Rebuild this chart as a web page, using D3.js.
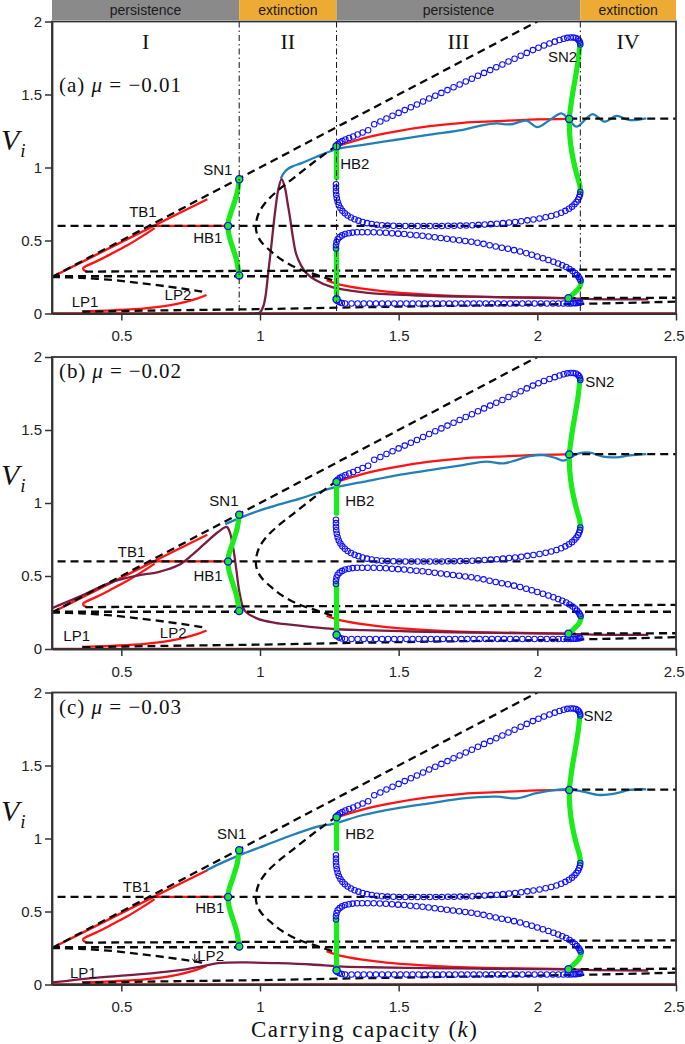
<!DOCTYPE html>
<html><head><meta charset="utf-8">
<script src="https://cdn.jsdelivr.net/npm/d3@7"></script>
<style>body{margin:0;background:#fff} svg{display:block}</style>
</head><body>
<svg id="chart" width="685" height="1044"></svg>
<script>
// ---------------- DATA ----------------
const xTicks = [0.5, 1, 1.5, 2, 2.5];
const yTicks = [0, 0.5, 1, 1.5, 2];
const panelLetters = ["(a)", "(b)", "(c)"];
const muValues = ["−0.01", "−0.02", "−0.03"];
const regimeNames = ["persistence", "extinction", "persistence", "extinction"];
const regimeBounds = [0.25, 0.925, 1.276, 2.155, 2.5];
const romanNumerals = ["I", "II", "III", "IV"];
const bifNames = ["SN1", "TB1", "HB1", "LP1", "LP2", "HB2", "SN2"];

// unstable equilibria (dashed)
const dashDiagonal = [[0.25,0.25],[2.0,2.0]];
const dashH060 = [[0.27,0.6],[2.5,0.6]];
const dashH029 = [[0.37,0.287],[1.0,0.292],[2.5,0.302]];
const dashH025 = [[0.25,0.255],[2.5,0.255]];
const dashLPUpper = [[0.25,0.25],[0.35,0.245],[0.465,0.23],[0.57,0.208],[0.67,0.184],[0.74,0.165],[0.79,0.15],[0.805,0.138]];
const dashBottom = [[0.36,0.012],[0.6,0.02],[1.0,0.03],[1.276,0.04],[1.6,0.05],[2.16,0.066],[2.5,0.081]];
const dashLowerTail = [[2.11,0.105],[2.3,0.107],[2.5,0.108]];
const dashTopTail = [[2.115,1.335],[2.5,1.335]];
const dashFold = [[1.277,1.152],[1.2,1.045],[1.12,0.926],[1.06,0.835],[1.02,0.76],[0.995,0.685],[0.985,0.6],[0.99,0.54],[1.005,0.49],[1.04,0.425],[1.08,0.366],[1.14,0.305],[1.204,0.264],[1.282,0.215]];

// stable equilibria (red)
const redZero = [[0.25,0],[2.5,0]];
const redUpperLeft = [[0.25,0.25],[0.4,0.393],[0.6,0.584],[0.81,0.782]];
const redFold = [[0.378,0.287],[0.366,0.296],[0.362,0.309],[0.37,0.322],[0.41,0.357],[0.46,0.405],[0.52,0.465],[0.58,0.535],[0.62,0.585]];
const redHB1 = [[0.615,0.6],[0.885,0.6]];
const redLP = [[0.358,0.015],[0.465,0.022],[0.585,0.035],[0.705,0.068],[0.77,0.1],[0.807,0.127]];
const redUpperRight = [[1.276,1.145],[1.372,1.2],[1.492,1.248],[1.612,1.283],[1.732,1.306],[1.853,1.317],[1.973,1.328],[2.11,1.333]];
const redLowerRight = [[1.24,0.228],[1.288,0.198],[1.37,0.17],[1.456,0.15],[1.576,0.133],[1.696,0.121],[1.816,0.114],[1.936,0.11],[2.11,0.105]];

// limit point curves (green)
const greenSN1 = [[0.925,0.92],[0.918,0.83],[0.902,0.73],[0.887,0.64],[0.885,0.6],[0.888,0.54],[0.9,0.46],[0.915,0.37],[0.925,0.26]];
const greenHB2Upper = [[1.276,1.145],[1.276,0.93]];
const greenHB2Lower = [[1.276,0.445],[1.276,0.097]];
const greenSN2Upper = [[2.153,1.84],[2.147,1.73],[2.135,1.592],[2.123,1.455],[2.115,1.333]];
const greenSN2Mid = [[2.115,1.333],[2.117,1.22],[2.123,1.12],[2.141,0.96],[2.153,0.88],[2.155,0.836]];
const greenSN2Lower = [[2.159,0.22],[2.152,0.18],[2.138,0.15],[2.112,0.104]];
const bifPoints = [[0.925,0.92],[0.885,0.6],[0.925,0.26],[1.276,1.145],[1.276,0.097],[2.115,1.333],[2.112,0.104]];

// unstable periodic orbits (open circles)
const orbitUpper = [[1.276,1.145],[1.281,1.16],[1.288,1.172],[1.297,1.182],[1.308,1.192],[1.321,1.202],[1.336,1.213],[1.352,1.226],[1.37,1.24],[1.39,1.255],
 [1.412,1.296],[1.434,1.315],[1.456,1.335],[1.478,1.354],[1.5,1.374],[1.522,1.393],[1.544,1.413],[1.566,1.432],[1.588,1.452],[1.61,1.472],
 [1.632,1.491],[1.654,1.511],[1.676,1.53],[1.698,1.55],[1.72,1.569],[1.742,1.589],[1.764,1.608],[1.786,1.628],[1.808,1.648],[1.83,1.667],
 [1.852,1.687],[1.874,1.706],[1.896,1.726],[1.918,1.745],[1.94,1.765],[1.962,1.785],[1.984,1.804],[2.004,1.82],[2.024,1.835],[2.044,1.849],
 [2.063,1.862],[2.08,1.873],[2.095,1.882],[2.108,1.888],[2.12,1.891],[2.13,1.891],[2.139,1.887],[2.146,1.879],[2.151,1.868],[2.154,1.855],[2.155,1.843]];
const orbitLoopUpper = [[1.274,0.885],[1.274,0.862],[1.274,0.838],[1.275,0.814],[1.277,0.79],[1.28,0.766],[1.284,0.743],[1.29,0.722],[1.297,0.703],[1.306,0.686],
 [1.316,0.671],[1.328,0.658],[1.341,0.646],[1.355,0.636],[1.37,0.627],[1.386,0.619],[1.403,0.613],[1.421,0.608],[1.44,0.604],[1.46,0.602],
 [1.481,0.601],[1.502,0.6],[1.524,0.6],[1.546,0.6],[1.568,0.6],[1.59,0.6],[1.612,0.6],[1.634,0.6],[1.656,0.6],[1.678,0.601],
 [1.7,0.601],[1.722,0.602],[1.744,0.603],[1.766,0.605],[1.788,0.607],[1.81,0.609],[1.832,0.612],[1.854,0.615],[1.876,0.619],[1.898,0.623],
 [1.92,0.627],[1.942,0.632],[1.964,0.638],[1.986,0.644],[2.008,0.651],[2.03,0.659],[2.05,0.668],[2.069,0.678],[2.086,0.69],[2.101,0.703],
 [2.114,0.717],[2.125,0.732],[2.134,0.748],[2.141,0.764],[2.147,0.781],[2.151,0.798],[2.154,0.815],[2.155,0.832]];
const orbitLoopLower = [[1.274,0.445],[1.274,0.468],[1.276,0.49],[1.28,0.508],[1.287,0.523],[1.296,0.535],[1.307,0.544],[1.32,0.55],[1.334,0.554],[1.35,0.556],
 [1.368,0.557],[1.388,0.557],[1.41,0.556],[1.432,0.555],[1.454,0.553],[1.476,0.55],[1.498,0.547],[1.52,0.544],[1.542,0.54],[1.564,0.536],
 [1.586,0.532],[1.608,0.527],[1.63,0.522],[1.652,0.517],[1.674,0.512],[1.696,0.507],[1.718,0.502],[1.74,0.497],[1.762,0.491],[1.784,0.484],
 [1.806,0.477],[1.828,0.468],[1.85,0.459],[1.872,0.451],[1.894,0.443],[1.916,0.434],[1.938,0.424],[1.96,0.413],[1.98,0.402],[2.0,0.39],
 [2.02,0.378],[2.04,0.366],[2.058,0.354],[2.075,0.342],[2.09,0.33],[2.104,0.318],[2.116,0.305],[2.127,0.291],[2.136,0.277],[2.143,0.263],
 [2.149,0.25],[2.153,0.238],[2.156,0.226]];
const orbitBottom = [[1.278,0.088],[1.285,0.078],[1.295,0.072],[1.307,0.069],[1.33,0.068],[1.352,0.068],[1.374,0.068],[1.396,0.068],[1.418,0.068],[1.44,0.068],
 [1.462,0.068],[1.484,0.068],[1.506,0.068],[1.528,0.068],[1.55,0.068],[1.572,0.068],[1.594,0.068],[1.616,0.068],[1.638,0.068],[1.66,0.068],
 [1.682,0.068],[1.704,0.068],[1.726,0.068],[1.748,0.068],[1.77,0.068],[1.792,0.068],[1.814,0.068],[1.836,0.068],[1.858,0.068],[1.88,0.068],
 [1.902,0.068],[1.924,0.068],[1.946,0.068],[1.968,0.068],[1.99,0.068],[2.012,0.068],[2.034,0.068],[2.056,0.068],[2.076,0.068],[2.094,0.068],
 [2.109,0.068],[2.12,0.069],[2.13,0.07],[2.138,0.071],[2.145,0.072],[2.151,0.074],[2.155,0.076]];

// simulated trajectories
const blueA = [[1.075,0.925],[1.085,0.96],[1.1,0.99],[1.12,1.01],[1.15,1.03],[1.2,1.07],[1.276,1.125],[1.372,1.155],[1.492,1.19],[1.612,1.225],[1.732,1.258],[1.792,1.285],[1.852,1.302],[1.885,1.296],[1.912,1.298],[1.96,1.321],[2.0,1.277],[2.045,1.326],[2.087,1.371],[2.11,1.337],[2.141,1.28],[2.177,1.337],[2.2,1.366],[2.243,1.314],[2.285,1.353],[2.333,1.325],[2.393,1.337]];
const blueB = [[0.875,0.855],[0.93,0.9],[1.0,0.95],[1.07,0.99],[1.144,1.03],[1.2,1.065],[1.264,1.105],[1.372,1.145],[1.492,1.19],[1.612,1.225],[1.732,1.26],[1.816,1.283],[1.877,1.271],[1.925,1.294],[1.973,1.321],[2.021,1.328],[2.069,1.306],[2.093,1.29],[2.12,1.31],[2.141,1.335],[2.189,1.345],[2.237,1.317],[2.285,1.313],[2.333,1.326],[2.393,1.335]];
const blueC = [[0.807,0.783],[0.87,0.84],[0.927,0.886],[1.0,0.94],[1.083,1.0],[1.204,1.08],[1.264,1.1],[1.372,1.161],[1.492,1.207],[1.612,1.241],[1.732,1.275],[1.853,1.287],[1.925,1.275],[1.997,1.31],[2.069,1.333],[2.111,1.337],[2.165,1.321],[2.225,1.298],[2.285,1.31],[2.333,1.333],[2.393,1.337]];
const maroonA = [[0.96,0],[0.985,0.001],[1.0,0.008],[1.012,0.05],[1.02,0.12],[1.028,0.25],[1.04,0.45],[1.054,0.69],[1.066,0.85],[1.078,0.92],[1.09,0.86],[1.1,0.75],[1.108,0.66],[1.118,0.53],[1.13,0.41],[1.148,0.33],[1.168,0.275],[1.2,0.23],[1.26,0.18],[1.32,0.158],[1.396,0.14],[1.55,0.125],[1.75,0.115],[2.0,0.108],[2.11,0.104],[2.2,0.099],[2.4,0.097]];
const maroonB = [[0.25,0.28],[0.345,0.355],[0.465,0.458],[0.561,0.504],[0.633,0.527],[0.705,0.573],[0.753,0.641],[0.801,0.722],[0.849,0.801],[0.88,0.836],[0.891,0.801],[0.903,0.698],[0.915,0.538],[0.927,0.378],[0.945,0.263],[0.993,0.206],[1.054,0.179],[1.083,0.172],[1.18,0.152],[1.264,0.137],[1.372,0.129],[1.55,0.12],[1.75,0.113],[2.0,0.107],[2.11,0.104],[2.2,0.099],[2.4,0.097]];
const maroonC = [[0.25,0.014],[0.405,0.046],[0.585,0.073],[0.705,0.096],[0.789,0.124],[0.849,0.146],[0.945,0.151],[1.065,0.146],[1.186,0.137],[1.282,0.124],[1.4,0.118],[1.6,0.112],[1.8,0.108],[2.0,0.105],[2.11,0.104],[2.2,0.099],[2.4,0.096]];

// ---------------- LAYOUT ----------------
const X0 = 52, X1 = 676;
const panelTops = [21.5, 357, 692.5];
const panelH = 292;
const labelPos = [
  {SN1:[0.848,0.983],TB1:[0.578,0.695],HB1:[0.812,0.517],LP1:[0.369,0.079],LP2:[0.704,0.127],HB2:[1.342,1.03],SN2:[2.091,1.757]},
  {SN1:[0.87,1.019],TB1:[0.537,0.664],HB1:[0.813,0.504],LP1:[0.339,0.091],LP2:[0.687,0.114],HB2:[1.36,1.019],SN2:[2.225,1.832]},
  {SN1:[0.898,1.035],TB1:[0.555,0.668],HB1:[0.819,0.527],LP1:[0.363,0.084],LP2:[0.822,0.2],HB2:[1.36,1.035],SN2:[2.219,1.841]}
];
const panelLabelBaseline = [92, 378, 714];
const COL = {red:"#ff1212", blue:"#2280b5", maroon:"#7a1d42", green:"#19ec19", orbit:"#0d0dff", dash:"#0a0a0a", axis:"#333"};

const svg = d3.select("#chart");
const x = d3.scaleLinear().domain([0.25, 2.5]).range([X0, X1]);
const sans = "'Liberation Sans', Arial, Helvetica, sans-serif";
const serif = "'Liberation Serif', 'Times New Roman', serif";

// banner
const banner = svg.append("g");
regimeNames.forEach((name, i) => {
  const a = x(regimeBounds[i]), b = x(regimeBounds[i+1]);
  banner.append("rect").attr("x", a).attr("y", 0).attr("width", b - a).attr("height", 20)
    .attr("fill", name === "extinction" ? "#eeab33" : "#8a8a8a");
  banner.append("text").attr("x", (a+b)/2).attr("y", 15).attr("text-anchor","middle")
    .attr("font-family", sans).attr("font-size", 14).attr("fill", "#1a1a1a").text(name);
});

const panelData = [
  {blue: blueA, maroon: maroonA},
  {blue: blueB, maroon: maroonB},
  {blue: blueC, maroon: maroonC}
];

panelData.forEach((pd, i) => {
  const top = panelTops[i], bottom = top + panelH;
  const y = d3.scaleLinear().domain([0, 2]).range([bottom, top]);
  const line = d3.line().x(d => x(d[0])).y(d => y(d[1])).curve(d3.curveCatmullRom.alpha(0.5));
  const g = svg.append("g");
  const clipId = "clip" + i;
  svg.append("clipPath").attr("id", clipId).append("rect")
    .attr("x", X0).attr("y", top).attr("width", X1 - X0).attr("height", panelH);
  const plot = g.append("g").attr("clip-path", `url(#${clipId})`);

  const draw = (data, color, w, dash) => {
    const p = plot.append("path").attr("d", line(data)).attr("fill", "none")
      .attr("stroke", color).attr("stroke-width", w).attr("stroke-linejoin","round");
    if (dash) p.attr("stroke-dasharray", dash);
    return p;
  };

  [redZero, redUpperLeft, redFold, redHB1, redLP, redUpperRight, redLowerRight].forEach(d => draw(d, COL.red, 2.3));
  draw(pd.blue, COL.blue, 2.3);
  draw(pd.maroon, COL.maroon, 2.3);
  [dashDiagonal, dashH060, dashH029, dashH025, dashLPUpper, dashBottom, dashLowerTail, dashTopTail, dashFold]
    .forEach(d => draw(d, COL.dash, 2.3, "8,5"));
  [greenSN1, greenHB2Upper, greenHB2Lower, greenSN2Upper, greenSN2Mid, greenSN2Lower]
    .forEach(d => draw(d, COL.green, 5.2).attr("stroke-linecap","round"));
  [orbitUpper, orbitLoopUpper, orbitLoopLower, orbitBottom].forEach(arr => {
    plot.append("g").selectAll("circle").data(arr).join("circle")
      .attr("cx", d => x(d[0])).attr("cy", d => y(d[1])).attr("r", 2.75)
      .attr("fill", "none").attr("stroke", COL.orbit).attr("stroke-width", 1.05);
  });

  if (i === 0) {
    regimeBounds.slice(1, 4).forEach(k => {
      g.append("line").attr("x1", x(k)).attr("x2", x(k)).attr("y1", top).attr("y2", bottom)
        .attr("stroke", "#111").attr("stroke-width", 1).attr("stroke-dasharray", "6,3,1.5,3");
    });
    romanNumerals.forEach((r, j) => {
      g.append("text").attr("x", (x(regimeBounds[j]) + x(regimeBounds[j+1]))/2).attr("y", 49)
        .attr("text-anchor","middle").attr("font-family", serif).attr("font-size", 22).attr("fill","#111").text(r);
    });
  }

  plot.append("g").selectAll("circle").data(bifPoints).join("circle")
    .attr("cx", d => x(d[0])).attr("cy", d => y(d[1])).attr("r", 3.6)
    .attr("fill", COL.green).attr("stroke", COL.orbit).attr("stroke-width", 1.3);

  g.append("rect").attr("x", X0).attr("y", top).attr("width", X1 - X0).attr("height", panelH)
    .attr("fill", "none").attr("stroke", COL.axis).attr("stroke-width", 1.8);

  const xa = g.append("g").attr("transform", `translate(0,${bottom})`)
    .call(d3.axisBottom(x).tickValues(xTicks).tickSize(7).tickSizeOuter(0).tickPadding(10).tickFormat(d3.format("~g")));
  const ya = g.append("g").attr("transform", `translate(${X0},0)`)
    .call(d3.axisLeft(y).tickValues(yTicks).tickSize(7).tickSizeOuter(0).tickPadding(3).tickFormat(d3.format("~g")));
  [xa, ya].forEach(a => {
    a.select(".domain").attr("stroke", COL.axis).attr("stroke-width", 1.8);
    a.selectAll(".tick line").attr("stroke", COL.axis).attr("stroke-width", 1.5);
    a.selectAll(".tick text").attr("font-family", sans).attr("font-size", 15).attr("fill", "#222");
  });
  xa.selectAll(".tick text").filter(d => d === 2.5).attr("text-anchor", "end").attr("dx", 8);

  bifNames.forEach(name => {
    const pos = labelPos[i][name];
    g.append("text").attr("x", x(pos[0])).attr("y", y(pos[1])).attr("dy", "0.36em")
      .attr("text-anchor","middle").attr("font-family", sans).attr("font-size", 15).attr("fill","#111").text(name);
  });
  if (i === 2) {
    const ax = x(0.765), ay1 = y(0.21), ay2 = y(0.15);
    g.append("line").attr("x1", ax).attr("x2", ax).attr("y1", ay1).attr("y2", ay2).attr("stroke","#111").attr("stroke-width",1);
    g.append("path").attr("d", `M${ax-2.5},${ay2-4}L${ax},${ay2}L${ax+2.5},${ay2-4}`).attr("fill","none").attr("stroke","#111").attr("stroke-width",1);
  }

  const pl = g.append("text").attr("x", 59).attr("y", panelLabelBaseline[i])
    .attr("font-family", serif).attr("font-size", 21).attr("fill", "#111")
    .attr("textLength", 122).attr("lengthAdjust", "spacing");
  pl.append("tspan").text(panelLetters[i] + " ");
  pl.append("tspan").attr("font-style","italic").text("μ");
  pl.append("tspan").text(" = " + muValues[i]);

  const yl = g.append("text").attr("x", 1).attr("y", y(1.12))
    .attr("font-family", serif).attr("font-size", 30).attr("font-style","italic").attr("fill","#111");
  yl.append("tspan").text("V");
  yl.append("tspan").attr("font-size", 19).attr("dy", 7).attr("dx", 1).text("i");
});

const xt = svg.append("text").attr("x", 364).attr("y", 1037).attr("text-anchor","middle")
  .attr("font-family", serif).attr("font-size", 23).attr("fill","#111")
  .attr("textLength", 226).attr("lengthAdjust","spacing");
xt.append("tspan").text("Carrying capacity (");
xt.append("tspan").attr("font-style","italic").text("k");
xt.append("tspan").text(")");
</script>
</body></html>
